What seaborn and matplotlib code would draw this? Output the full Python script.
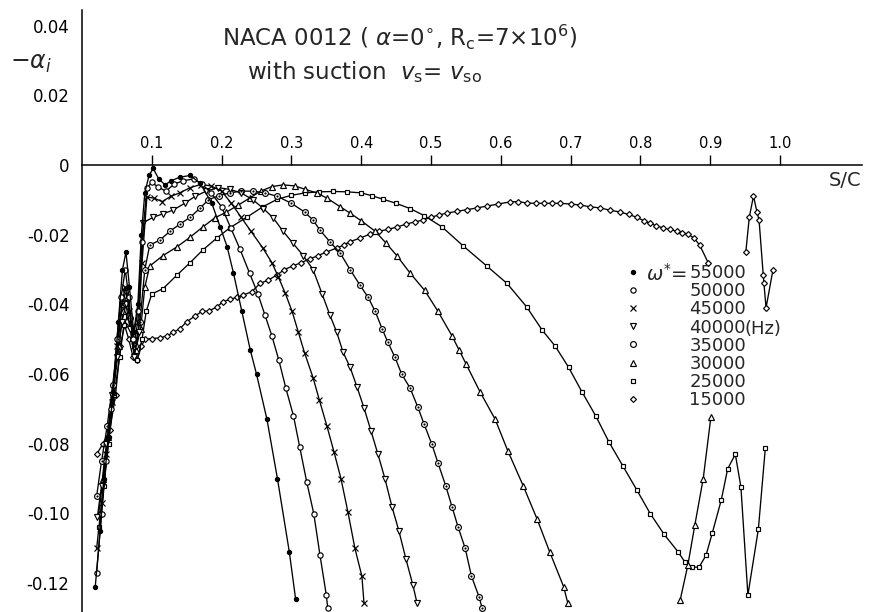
import numpy as np
import pandas as pd
import matplotlib
matplotlib.use("Agg")
import matplotlib.pyplot as plt
from matplotlib.lines import Line2D
import seaborn as sns

# ---------------- data ----------------
freq_labels = ["55000", "50000", "45000", "40000", "35000", "30000", "25000", "15000"]

x55 = [0.019, 0.026, 0.032, 0.038, 0.045, 0.052, 0.058, 0.063, 0.068, 0.074, 0.080, 0.085, 0.090, 0.096,
       0.102, 0.110, 0.119, 0.128, 0.140, 0.155, 0.169, 0.186, 0.198, 0.208, 0.217, 0.229, 0.241, 0.250,
       0.265, 0.280, 0.297, 0.306]
y55 = [-0.121, -0.105, -0.090, -0.078, -0.065, -0.045, -0.030, -0.025, -0.035, -0.048, -0.040, -0.020, -0.008,
       -0.003, -0.001, -0.004, -0.0057, -0.0045, -0.0035, -0.003, -0.0052, -0.011, -0.0178, -0.0235, -0.031,
       -0.042, -0.053, -0.060, -0.073, -0.090, -0.111, -0.1245]

x50 = [0.021, 0.028, 0.035, 0.042, 0.050, 0.056, 0.062, 0.067, 0.073, 0.080, 0.086, 0.093, 0.100, 0.109,
       0.120, 0.132, 0.145, 0.160, 0.172, 0.185, 0.200, 0.213, 0.226, 0.240, 0.252, 0.262, 0.272, 0.282,
       0.292, 0.303, 0.312, 0.322, 0.332, 0.341, 0.350, 0.352]
y50 = [-0.117, -0.100, -0.085, -0.070, -0.050, -0.038, -0.030, -0.038, -0.050, -0.042, -0.022, -0.0066,
       -0.005, -0.0063, -0.0075, -0.0055, -0.0045, -0.004, -0.0055, -0.008, -0.012, -0.018, -0.024, -0.031,
       -0.037, -0.043, -0.049, -0.056, -0.064, -0.072, -0.081, -0.091, -0.100, -0.112, -0.1234, -0.127]

x45 = [0.021, 0.028, 0.035, 0.043, 0.050, 0.057, 0.062, 0.068, 0.074, 0.080, 0.086, 0.093, 0.103, 0.115,
       0.127, 0.140, 0.155, 0.170, 0.185, 0.200, 0.214, 0.228, 0.242, 0.259, 0.272, 0.281, 0.291, 0.301,
       0.310, 0.319, 0.331, 0.340, 0.351, 0.361, 0.371, 0.381, 0.391, 0.401, 0.404]
y45 = [-0.110, -0.097, -0.083, -0.068, -0.052, -0.040, -0.035, -0.042, -0.052, -0.045, -0.028, -0.0092,
       -0.0095, -0.0105, -0.009, -0.008, -0.0065, -0.0056, -0.006, -0.0075, -0.011, -0.015, -0.019, -0.0238,
       -0.028, -0.032, -0.0367, -0.042, -0.048, -0.054, -0.061, -0.0674, -0.075, -0.0823, -0.090, -0.0996,
       -0.110, -0.118, -0.1257]

x40 = [0.022, 0.028, 0.035, 0.043, 0.050, 0.057, 0.063, 0.069, 0.075, 0.081, 0.088, 0.102, 0.116, 0.130,
       0.147, 0.162, 0.178, 0.195, 0.212, 0.228, 0.245, 0.260, 0.274, 0.288, 0.302, 0.317, 0.331, 0.344,
       0.355, 0.365, 0.374, 0.384, 0.394, 0.404, 0.414, 0.424, 0.434, 0.444, 0.454, 0.464, 0.474, 0.480]
y40 = [-0.101, -0.092, -0.080, -0.066, -0.055, -0.045, -0.040, -0.047, -0.055, -0.048, -0.0165, -0.015,
       -0.014, -0.013, -0.011, -0.009, -0.0075, -0.0065, -0.007, -0.008, -0.010, -0.0125, -0.0152, -0.019,
       -0.0224, -0.026, -0.030, -0.037, -0.043, -0.048, -0.0537, -0.058, -0.0637, -0.0697, -0.0763, -0.083,
       -0.090, -0.098, -0.105, -0.113, -0.1205, -0.1257]

x35 = [0.021, 0.028, 0.036, 0.044, 0.052, 0.058, 0.063, 0.069, 0.076, 0.083, 0.090, 0.097, 0.112, 0.126,
       0.140, 0.155, 0.169, 0.181, 0.196, 0.212, 0.228, 0.245, 0.262, 0.280, 0.300, 0.319, 0.331, 0.341,
       0.355, 0.370, 0.384, 0.398, 0.410, 0.420, 0.430, 0.438, 0.448, 0.458, 0.470, 0.481, 0.490, 0.501,
       0.510, 0.521, 0.530, 0.539, 0.549, 0.558, 0.569, 0.573]
y35 = [-0.095, -0.085, -0.075, -0.063, -0.050, -0.040, -0.036, -0.044, -0.052, -0.045, -0.030, -0.023,
       -0.0215, -0.019, -0.017, -0.015, -0.0124, -0.010, -0.0088, -0.008, -0.0075, -0.0075, -0.008, -0.009,
       -0.011, -0.0135, -0.0158, -0.0187, -0.022, -0.0253, -0.030, -0.0344, -0.038, -0.042, -0.047, -0.0508,
       -0.055, -0.060, -0.064, -0.0694, -0.0743, -0.080, -0.0855, -0.092, -0.098, -0.104, -0.110, -0.118,
       -0.124, -0.127]

x30 = [0.024, 0.030, 0.037, 0.045, 0.053, 0.059, 0.064, 0.070, 0.077, 0.084, 0.090, 0.097, 0.116, 0.136,
       0.155, 0.173, 0.190, 0.207, 0.224, 0.240, 0.256, 0.272, 0.288, 0.305, 0.320, 0.336, 0.351, 0.370,
       0.384, 0.400, 0.420, 0.436, 0.451, 0.470, 0.491, 0.510, 0.530, 0.540, 0.550, 0.570, 0.592, 0.610,
       0.632, 0.652, 0.670, 0.690, 0.696]
y30 = [-0.100, -0.090, -0.078, -0.065, -0.052, -0.042, -0.038, -0.046, -0.053, -0.047, -0.035, -0.029,
       -0.026, -0.0235, -0.0207, -0.0178, -0.0152, -0.0135, -0.0115, -0.0095, -0.0075, -0.0062, -0.0057,
       -0.006, -0.007, -0.008, -0.0095, -0.012, -0.0138, -0.016, -0.019, -0.0225, -0.026, -0.031, -0.036,
       -0.042, -0.049, -0.053, -0.057, -0.065, -0.073, -0.082, -0.092, -0.1016, -0.111, -0.121, -0.1257]
# re-emerging end of the 30000 curve near the trailing edge
x30_end = [0.857, 0.868, 0.878, 0.890, 0.901]
y30_end = [-0.1248, -0.1148, -0.1033, -0.090, -0.0723]

x25 = [0.025, 0.031, 0.038, 0.046, 0.054, 0.060, 0.066, 0.072, 0.079, 0.086, 0.092, 0.100, 0.116, 0.136,
       0.155, 0.173, 0.193, 0.212, 0.236, 0.259, 0.280, 0.300, 0.320, 0.340, 0.360, 0.380, 0.400, 0.415,
       0.431, 0.450, 0.470, 0.490, 0.516, 0.546, 0.580, 0.609, 0.637, 0.659, 0.678, 0.697, 0.716, 0.736,
       0.755, 0.775, 0.795, 0.814, 0.834, 0.854, 0.864, 0.874, 0.884, 0.894, 0.903, 0.916, 0.925, 0.936,
       0.944, 0.954, 0.969, 0.979]
y25 = [-0.104, -0.092, -0.080, -0.066, -0.055, -0.046, -0.043, -0.050, -0.056, -0.050, -0.042, -0.037,
       -0.0355, -0.0316, -0.028, -0.0244, -0.021, -0.018, -0.015, -0.012, -0.0098, -0.0087, -0.008, -0.0077,
       -0.0076, -0.0077, -0.008, -0.0088, -0.0098, -0.011, -0.0125, -0.0145, -0.0178, -0.0232, -0.029,
       -0.034, -0.0407, -0.0473, -0.052, -0.058, -0.065, -0.072, -0.0795, -0.0864, -0.0933, -0.100, -0.106,
       -0.111, -0.114, -0.1154, -0.1154, -0.112, -0.1056, -0.096, -0.0872, -0.083, -0.0924, -0.1234,
       -0.1045, -0.0812]

x15 = [0.021, 0.030, 0.040, 0.048, 0.055, 0.061, 0.067, 0.073, 0.079, 0.085, 0.090, 0.100, 0.112, 0.122,
       0.131, 0.140, 0.150, 0.162, 0.172, 0.182, 0.193, 0.202, 0.212, 0.222, 0.231, 0.243, 0.255, 0.267,
       0.279, 0.290, 0.302, 0.314, 0.326, 0.338, 0.350, 0.365, 0.375, 0.384, 0.398, 0.413, 0.425, 0.438,
       0.451, 0.464, 0.477, 0.489, 0.500, 0.512, 0.523, 0.537, 0.552, 0.566, 0.580, 0.596, 0.613, 0.625,
       0.637, 0.650, 0.662, 0.674, 0.685, 0.700, 0.714, 0.728, 0.742, 0.757, 0.771, 0.783, 0.795, 0.805,
       0.814, 0.823, 0.832, 0.842, 0.852, 0.860, 0.868, 0.877, 0.885, 0.897]
y15 = [-0.083, -0.080, -0.076, -0.066, -0.052, -0.046, -0.050, -0.055, -0.056, -0.052, -0.050, -0.0498,
       -0.0496, -0.049, -0.048, -0.047, -0.045, -0.0433, -0.042, -0.0419, -0.0407, -0.0393, -0.0385, -0.038,
       -0.0373, -0.0364, -0.034, -0.033, -0.0316, -0.030, -0.029, -0.028, -0.027, -0.026, -0.025, -0.0238,
       -0.023, -0.022, -0.021, -0.0198, -0.019, -0.0185, -0.0178, -0.017, -0.0163, -0.0158, -0.015, -0.0143,
       -0.0138, -0.0133, -0.0128, -0.0123, -0.0118, -0.0112, -0.0106, -0.0105, -0.0109, -0.011, -0.011,
       -0.011, -0.011, -0.0112, -0.0115, -0.012, -0.0123, -0.013, -0.0135, -0.0142, -0.015, -0.016, -0.0167,
       -0.0175, -0.018, -0.0185, -0.019, -0.0194, -0.0198, -0.021, -0.023, -0.028]
# separate trailing-edge oscillation drawn beyond the gap
x15_end = [0.951, 0.956, 0.962, 0.967, 0.970, 0.976, 0.977, 0.980, 0.990]
y15_end = [-0.0250, -0.015, -0.0089, -0.0135, -0.0158, -0.0316, -0.034, -0.041, -0.030]

x_ticks = [0.1, 0.2, 0.3, 0.4, 0.5, 0.6, 0.7, 0.8, 0.9, 1.0]
x_ticklabels = ["0.1", "0.2", "0.3", "0.4", "0.5", "0.6", "0.7", "0.8", "0.9", "1.0"]
y_ticks = [0.04, 0.02, 0.0, -0.02, -0.04, -0.06, -0.08, -0.10, -0.12]
y_ticklabels = ["0.04", "0.02", "0", "-0.02", "-0.04", "-0.06", "-0.08", "-0.10", "-0.12"]

# ---------------- styling ----------------
sns.set_style("white")
plt.rcParams["font.family"] = ["DejaVu Sans"]
plt.rcParams["mathtext.fontset"] = "dejavusans"

W, H = 869, 612
fig = plt.figure(figsize=(W / 100, H / 100), dpi=100)
ax_left, ax_right, ax_top, ax_bot = 82, 862, 10, 612
ax = fig.add_axes([ax_left / W, 1 - ax_bot / H, (ax_right - ax_left) / W, (ax_bot - ax_top) / H])
ax.set_facecolor("white")

ax.set_xlim(0, (ax_right - ax_left) / 698.0)
ax.set_ylim((165 - 612) / 3485.0, (165 - 10) / 3485.0)

lw = 0.95
ms = 3.8
mew = 0.85
common = dict(color="black", lw=lw, sort=False, estimator=None, ax=ax, legend=False)

styles = {
    "55000": dict(marker="o", markersize=3.0, markerfacecolor="black", markeredgecolor="black", markeredgewidth=mew),
    "50000": dict(marker="o", markersize=ms, markerfacecolor="white", markeredgecolor="black", markeredgewidth=mew),
    "45000": dict(marker="x", markersize=ms, markeredgecolor="black", markeredgewidth=mew),
    "40000": dict(marker="v", markersize=ms + 0.4, markerfacecolor="white", markeredgecolor="black", markeredgewidth=mew),
    "35000": dict(marker="o", markersize=ms + 0.4, markerfacecolor="white", markeredgecolor="black", markeredgewidth=mew),
    "30000": dict(marker="^", markersize=ms + 0.4, markerfacecolor="white", markeredgecolor="black", markeredgewidth=mew),
    "25000": dict(marker="s", markersize=ms - 0.4, markerfacecolor="white", markeredgecolor="black", markeredgewidth=mew),
    "15000": dict(marker="D", markersize=ms - 0.8, markerfacecolor="white", markeredgecolor="black", markeredgewidth=mew),
}

series = [
    ("15000", x15, y15), ("15000", x15_end, y15_end),
    ("25000", x25, y25),
    ("30000", x30, y30), ("30000", x30_end, y30_end),
    ("35000", x35, y35),
    ("40000", x40, y40),
    ("45000", x45, y45),
    ("50000", x50, y50),
    ("55000", x55, y55),
]
for name, xs, ys in series:
    df = pd.DataFrame({"s": xs, "a": ys})
    sns.lineplot(data=df, x="s", y="a", **common, **styles[name])

# centre dots of the 35000 markers
sns.scatterplot(x=x35, y=y35, s=2.5, color="black", linewidth=0, ax=ax, legend=False, zorder=5)

# ---------------- axes ----------------
for side in ["right", "bottom"]:
    ax.spines[side].set_visible(False)
ax.spines["top"].set_position(("data", 0))
ax.spines["top"].set_linewidth(1.1)
ax.spines["left"].set_linewidth(1.1)
ax.spines["top"].set_color("black")
ax.spines["left"].set_color("black")

ax.xaxis.tick_top()
ax.set_xticks(x_ticks)
ax.set_xticklabels(x_ticklabels)
ax.tick_params(axis="x", direction="out", length=7, width=1.0, pad=3, labelsize=10.5, colors="black")
ax.set_yticks(y_ticks)
ax.set_yticklabels(y_ticklabels)
ax.tick_params(axis="y", direction="inout", length=12, width=1.0, pad=3, labelsize=12, colors="black")
ax.set_xlabel("")
ax.set_ylabel("")


def axc(px, py):
    return ((px - ax_left) / (ax_right - ax_left), 1 - (py - ax_top) / (ax_bot - ax_top))


ax.text(*axc(845, 180), "S/C", transform=ax.transAxes, ha="center", va="center", fontsize=14)
fig.text(31 / W, 1 - 63 / H, r"$-\alpha_i$", ha="center", va="center", fontsize=17)
fig.text(400 / W, 1 - 37 / H, r"NACA 0012 ( $\alpha$=0$^{\circ}$, R$_{\rm c}$=7×10$^{6}$)",
         ha="center", va="center", fontsize=16.5)
fig.text(247 / W, 1 - 72 / H, r"with suction  $v_{\rm s}$= $v_{\rm so}$",
         ha="left", va="center", fontsize=16.5)

# ---------------- legend ----------------
handles = [Line2D([], [], linestyle="none", **{k: v for k, v in styles[n].items()}) for n in freq_labels]
leg = ax.legend(handles, freq_labels, loc="upper left", bbox_to_anchor=axc(628, 264),
                frameon=False, fontsize=13, handlelength=0.6, handletextpad=2.8,
                labelspacing=0.01, borderpad=0, borderaxespad=0)
ax.text(*axc(687, 274), r"$\omega^{*}$=", transform=ax.transAxes, ha="right", va="center", fontsize=14)
ax.text(*axc(745, 329), "(Hz)", transform=ax.transAxes, ha="left", va="center", fontsize=13)

fig.savefig("out.png", dpi=100, facecolor="white")
